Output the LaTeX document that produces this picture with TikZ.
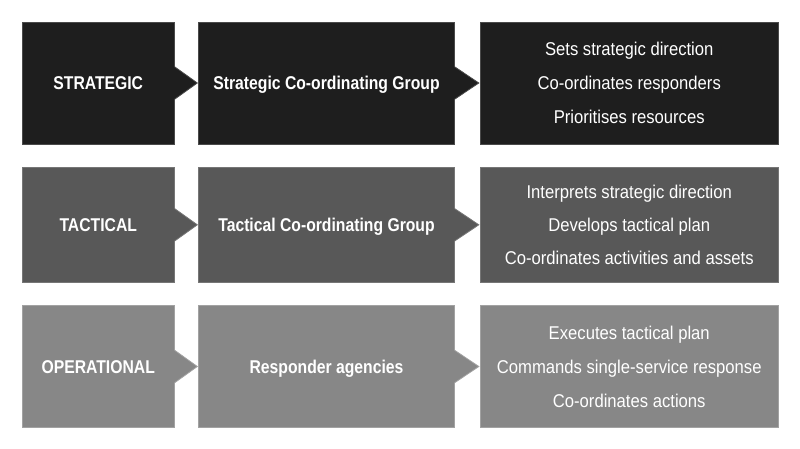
\documentclass[tikz,border=0pt]{standalone}
\usepackage{fontspec}
\setmainfont{Liberation Sans}[FakeStretch=0.9, BoldFeatures={FakeStretch=0.85}]
\newcommand{\topst}{\rule{0pt}{18pt}}
\newcommand{\botst}{\rule[-4.8pt]{0pt}{4.8pt}}
\definecolor{rowA}{HTML}{1E1E1E}
\definecolor{rowAline}{HTML}{4A4A4A}
\definecolor{rowB}{HTML}{585858}
\definecolor{rowBline}{HTML}{767676}
\definecolor{rowC}{HTML}{878787}
\definecolor{rowCline}{HTML}{A2A2A2}
\tikzset{
  cell/.style={inner sep=0pt, outer sep=0pt, line width=0.8pt, text=white, align=center,
    font=\fontsize{18.5}{34}\selectfont},
  lbl/.style={cell, font=\fontsize{18.5}{34}\selectfont\bfseries, text height=13.2pt, text depth=0pt},
  lvlA/.style={fill=rowA, draw=rowAline},
  lvlB/.style={fill=rowB, draw=rowBline},
  lvlC/.style={fill=rowC, draw=rowCline},
}
\newcommand{\rowarrow}[4]{% from node, to node, fill, line
  \fill[#3] ([xshift=-1pt,yshift=16.3pt]#1.east) -- ([yshift=16.3pt]#1.east) -- ([xshift=-1.2pt]#2.west) -- ([yshift=-16.3pt]#1.east) -- ([xshift=-1pt,yshift=-16.3pt]#1.east) -- cycle;
  \draw[#4, line width=0.8pt] ([yshift=16.3pt]#1.east) -- ([xshift=-1.2pt]#2.west) -- ([yshift=-16.3pt]#1.east);
}
\begin{document}
\begin{tikzpicture}[x=1pt,y=-1pt]
\useasboundingbox[fill=white] (0,0) rectangle (800,449);
% row 1
\node[lbl, lvlA, minimum width=152.5pt, minimum height=122pt] (s1) at (98.25,83) {STRATEGIC};
\node[lbl, lvlA, minimum width=256pt, minimum height=122pt] (s2) at (326.5,83) {Strategic Co-ordinating Group};
\node[cell, lvlA, minimum width=298.5pt, minimum height=122pt] (s3) at (629.25,83)
  {\topst Sets strategic direction\\Co-ordinates responders\\Prioritises resources\botst};
\rowarrow{s1}{s2}{rowA}{rowAline}
\rowarrow{s2}{s3}{rowA}{rowAline}
% row 2
\node[lbl, lvlB, minimum width=152.5pt, minimum height=115pt] (t1) at (98.25,224.8) {TACTICAL};
\node[lbl, lvlB, minimum width=256pt, minimum height=115pt] (t2) at (326.5,224.8) {Tactical Co-ordinating Group};
\node[cell, lvlB, minimum width=298.5pt, minimum height=115pt, font=\fontsize{18.5}{33.4}\selectfont] (t3) at (629.25,224.8)
  {\topst Interprets strategic direction\\Develops tactical plan\\Co-ordinates activities and assets\botst};
\rowarrow{t1}{t2}{rowB}{rowBline}
\rowarrow{t2}{t3}{rowB}{rowBline}
% row 3
\node[lbl, lvlC, minimum width=152.5pt, minimum height=122.4pt] (o1) at (98.25,366.5) {OPERATIONAL};
\node[lbl, lvlC, minimum width=256pt, minimum height=122.4pt] (o2) at (326.5,366.5) {Responder agencies};
\node[cell, lvlC, minimum width=298.5pt, minimum height=122.4pt] (o3) at (629.25,366.5)
  {\topst Executes tactical plan\\Commands single-service response\\Co-ordinates actions\botst};
\rowarrow{o1}{o2}{rowC}{rowCline}
\rowarrow{o2}{o3}{rowC}{rowCline}
\end{tikzpicture}
\end{document}
